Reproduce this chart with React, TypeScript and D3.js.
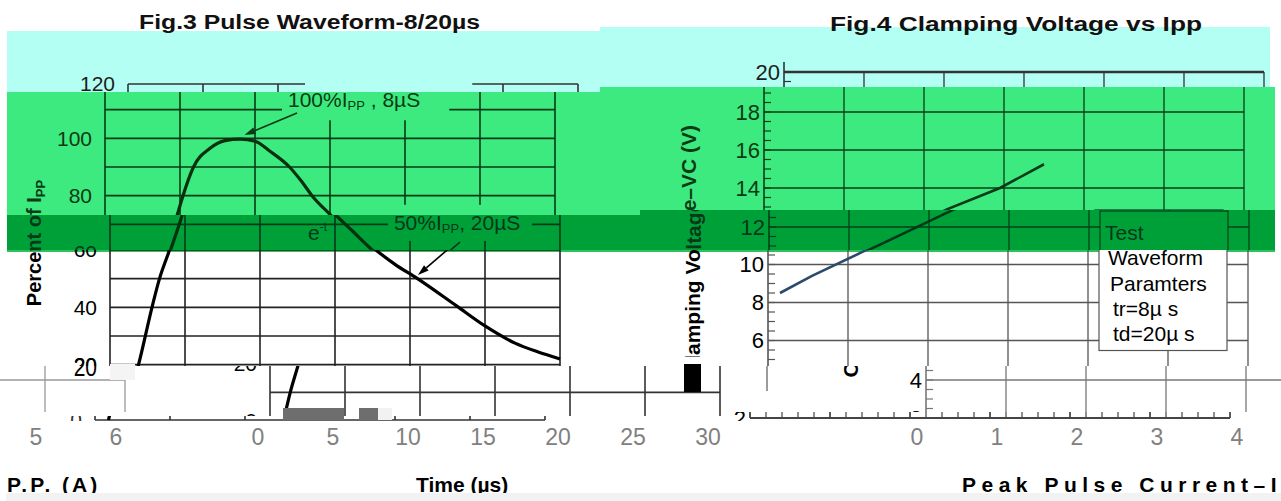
import { useEffect, useRef } from 'react'
import * as d3 from 'd3'

const W = 1281
const H = 501

// Fig.3 pulse waveform 8/20µs (time in µs, percent of Ipp)
const pulseTime = [0.9, 1.35, 1.9, 2.8, 3.3, 3.9, 4.8, 5.2, 5.9, 7.0, 8.0, 9.0, 10.0, 11.0, 12.3, 13.1, 13.8, 15.0, 16.2, 17.5, 19.0, 20.5, 23.1, 25.0, 27.0, 28.5, 30.0]
const pulsePercent = [0, 10, 20, 40, 50, 59, 73, 80, 90, 96.5, 99.2, 99.7, 99, 95.5, 90, 85, 80, 73.5, 67.5, 61, 55, 50, 40.5, 33.5, 27.5, 24.5, 22]
const timeTicks = [0, 5, 10, 15, 20, 25, 30]
const percentGrid = [0, 10, 20, 30, 40, 50, 60, 70, 80, 90, 100, 110, 120]
const percentLabels = [0, 20, 40, 60, 80, 100, 120]

// Fig.4 clamping voltage vs Ipp
const ippAmps = [0.15, 0.55, 1.2, 1.75, 2.3, 2.95, 3.5]
const clampVolts = [8.5, 9.4, 10.7, 11.8, 12.9, 14.0, 15.25]
const ippTicks = [0, 1, 2, 3, 4, 5, 6]
const voltTicks = [2, 4, 6, 8, 10, 12, 14, 16, 18, 20]
const legendLines = ['Test', 'Waveform', 'Paramters', 'tr=8µ s', 'td=20µ s']

const FONT = '"Liberation Sans", Arial, sans-serif'
const NARROW = '"Liberation Sans Narrow", "Arial Narrow", "Liberation Sans", sans-serif'

const xP = d3.scaleLinear().domain([0, 30]).range([105, 555])
const yP = d3.scaleLinear().domain([0, 120]).range([425, 81])
const xC = d3.scaleLinear().domain([0, 6]).range([764, 1244])
const yC = d3.scaleLinear().domain([2, 20]).range([416, 74])

type Band = {
  id: string
  x0: number
  x1: number
  y0: number
  y1: number
  dx: number
  dy: number
  ink: string
  grid: string
  bg: string
  curve: string
}

const CYAN = '#b3fff4'
const GREEN = '#3dea7f'
const DARK = '#00a038'

// each horizontal slice of the picture is a copy of the chart, moved sideways
const pulseBands: Band[] = [
  { id: 'pc', x0: 0, x1: 600, y0: 31, y1: 92, dx: 23, dy: 3, ink: '#1d1d1d', grid: '#333', bg: CYAN, curve: '#111' },
  { id: 'pg', x0: 0, x1: 600, y0: 92, y1: 215, dx: 0, dy: 0, ink: '#0b3a14', grid: '#0b3a14', bg: GREEN, curve: '#0a300f' },
  { id: 'pd', x0: 0, x1: 640, y0: 215, y1: 250, dx: 5, dy: 0, ink: '#04381a', grid: '#04381a', bg: DARK, curve: '#03300f' },
  { id: 'pw', x0: 0, x1: 640, y0: 250, y1: 366, dx: 5, dy: -3, ink: '#000', grid: '#222', bg: '#fff', curve: '#000' },
  { id: 'px', x0: 140, x1: 725, y0: 366, y1: 416, dx: 165, dy: -4, ink: '#000', grid: '#333', bg: '#fff', curve: '#000' },
  { id: 'pa', x0: 0, x1: 600, y0: 416, y1: 421, dx: -10, dy: -5, ink: '#333', grid: '#333', bg: '#fff', curve: '#000' },
]

const clampBands: Band[] = [
  { id: 'cc', x0: 600, x1: 1281, y0: 27, y1: 87, dx: 20, dy: -2, ink: '#1d1d1d', grid: '#333', bg: CYAN, curve: '#222' },
  { id: 'cg', x0: 600, x1: 1281, y0: 87, y1: 210, dx: 0, dy: 0, ink: '#0b3a14', grid: '#0d3d16', bg: GREEN, curve: '#0d3a18' },
  { id: 'cd', x0: 640, x1: 1281, y0: 210, y1: 250, dx: 5, dy: 1, ink: '#04381a', grid: '#05401a', bg: DARK, curve: '#04381a' },
  { id: 'cw', x0: 640, x1: 1281, y0: 250, y1: 366, dx: 4, dy: 0.5, ink: '#000', grid: '#555', bg: '#fff', curve: '#2c4a6c' },
  { id: 'cx', x0: 725, x1: 1281, y0: 366, y1: 412, dx: 162, dy: 2, ink: '#000', grid: '#777', bg: '#fff', curve: '#2c4a6c' },
  { id: 'cr', x0: 0, x1: 140, y0: 366, y1: 412, dx: 162 - W, dy: 2, ink: '#000', grid: '#999', bg: '#fff', curve: '#2c4a6c' },
  { id: 'ca', x0: 640, x1: 1281, y0: 412, y1: 421, dx: -14, dy: 2, ink: '#000', grid: '#444', bg: '#fff', curve: '#2c4a6c' },
]

type G = d3.Selection<SVGGElement, unknown, null, undefined>

function arrow(g: G, x1: number, y1: number, x2: number, y2: number, color: string) {
  const a = Math.atan2(y2 - y1, x2 - x1)
  const L = 11
  const w = 3.5
  const bx = x2 - L * Math.cos(a)
  const by = y2 - L * Math.sin(a)
  g.append('line')
    .attr('x1', x1).attr('y1', y1).attr('x2', bx).attr('y2', by)
    .attr('stroke', color).attr('stroke-width', 1.6)
  g.append('path')
    .attr('d', `M${x2},${y2}L${bx + w * Math.sin(a)},${by - w * Math.cos(a)}L${bx - w * Math.sin(a)},${by + w * Math.cos(a)}Z`)
    .attr('fill', color)
}

function drawPulse(g: G, b: Band) {
  const x = (t: number) => xP(t) + b.dx
  const y = (v: number) => yP(v) + b.dy

  // grid
  g.selectAll(null).data(timeTicks).join('line')
    .attr('x1', (d) => x(d)).attr('x2', (d) => x(d))
    .attr('y1', y(0)).attr('y2', y(120))
    .attr('stroke', b.grid).attr('stroke-width', 1.6)
  g.selectAll(null).data(percentGrid).join('line')
    .attr('x1', x(0)).attr('x2', x(30))
    .attr('y1', (d) => y(d)).attr('y2', (d) => y(d))
    .attr('stroke', b.grid).attr('stroke-width', 1.6)

  // y tick labels
  g.selectAll(null).data(percentLabels).join('text')
    .attr('x', x(0) - 13).attr('y', (d) => y(d)).attr('dy', '0.35em')
    .attr('text-anchor', 'end').attr('font-family', FONT).attr('font-size', 21)
    .attr('fill', b.ink).text((d) => d)

  // annotation 100%
  g.append('rect')
    .attr('x', x(11.8)).attr('width', x(22.95) - x(11.8))
    .attr('y', y(125)).attr('height', y(106.3) - y(125))
    .attr('fill', b.bg)
  const t1 = g.append('text').attr('x', x(12.2)).attr('y', y(110.8))
    .attr('font-family', FONT).attr('font-size', 21).attr('fill', b.ink)
  t1.append('tspan').text('100%I')
  t1.append('tspan').attr('font-size', 13).attr('dy', 3).text('PP')
  t1.append('tspan').attr('dy', -3).text(' , 8µS')
  arrow(g, x(12.8), y(108.8), x(9.3), y(101.2), b.ink)

  // annotation 50%
  g.append('rect')
    .attr('x', x(18.53)).attr('width', x(28.13) - x(18.53))
    .attr('y', y(76.8)).attr('height', y(64.2) - y(76.8))
    .attr('fill', b.bg)
  const t2 = g.append('text').attr('x', x(18.93)).attr('y', y(68.0))
    .attr('font-family', FONT).attr('font-size', 21).attr('fill', b.ink)
  t2.append('tspan').text('50%I')
  t2.append('tspan').attr('font-size', 13).attr('dy', 3).text('PP')
  t2.append('tspan').attr('dy', -3).text(', 20µS')
  arrow(g, x(23.33), y(63.8), x(20.53), y(51.3), b.ink)

  const te = g.append('text').attr('x', x(13.2)).attr('y', y(64.5))
    .attr('font-family', FONT).attr('font-size', 21).attr('fill', b.ink)
  te.append('tspan').text('e')
  te.append('tspan').attr('font-size', 12).attr('dy', -9).text('-t')

  // waveform
  const line = d3.line<number>()
    .x((_, i) => x(pulseTime[i]))
    .y((d) => y(d))
    .curve(d3.curveMonotoneX)
  g.append('path').attr('d', line(pulsePercent) || '')
    .attr('fill', 'none').attr('stroke', b.curve).attr('stroke-width', 3.2)

  // axis title (does not shift with the bands)
  const yt = g.append('text')
    .attr('transform', 'translate(41,243) rotate(-90)')
    .attr('text-anchor', 'middle').attr('font-family', FONT).attr('font-weight', 'bold')
    .attr('font-size', 20).attr('fill', b.ink)
  yt.append('tspan').text('Percent of I')
  yt.append('tspan').attr('font-size', 13).attr('dy', 4).text('PP')
}

function drawClamp(g: G, b: Band) {
  const x = (a: number) => xC(a) + b.dx
  const y = (v: number) => yC(v) + b.dy

  g.selectAll(null).data(ippTicks.slice(1)).join('line')
    .attr('x1', (d) => x(d)).attr('x2', (d) => x(d))
    .attr('y1', y(2)).attr('y2', y(20))
    .attr('stroke', b.grid).attr('stroke-width', 1.3)
  g.selectAll(null).data(voltTicks).join('line')
    .attr('x1', x(0)).attr('x2', x(6))
    .attr('y1', (d) => y(d)).attr('y2', (d) => y(d))
    .attr('stroke', b.grid).attr('stroke-width', (d) => (d === 20 ? 2.4 : d === 2 ? 2 : 1.3))

  // left axis + minor ticks
  g.append('line').attr('x1', x(0)).attr('x2', x(0)).attr('y1', y(20) - 10).attr('y2', y(2))
    .attr('stroke', b.grid).attr('stroke-width', 1.6)
  g.selectAll(null).data(d3.range(2, 20.01, 0.5)).join('line')
    .attr('x1', x(0)).attr('x2', x(0) + 7)
    .attr('y1', (d) => y(d)).attr('y2', (d) => y(d))
    .attr('stroke', b.grid).attr('stroke-width', 1.2)
  g.selectAll(null).data(d3.range(0, 6.01, 0.2)).join('line')
    .attr('x1', (d) => x(d)).attr('x2', (d) => x(d))
    .attr('y1', y(2)).attr('y2', y(2) - 6)
    .attr('stroke', b.grid).attr('stroke-width', 1.2)

  g.selectAll(null).data(voltTicks).join('text')
    .attr('x', x(0) - 4).attr('y', (d) => y(d)).attr('dy', '0.35em')
    .attr('text-anchor', 'end').attr('font-family', FONT).attr('font-size', 22)
    .attr('fill', b.ink).text((d) => d)

  const line = d3.line<number>()
    .x((_, i) => x(ippAmps[i]))
    .y((d) => y(d))
  g.append('path').attr('d', line(clampVolts) || '')
    .attr('fill', 'none').attr('stroke', b.curve).attr('stroke-width', 2.6)

  // legend box
  const lx = 1095 + b.dx
  const ly = 210 + b.dy
  g.append('rect').attr('x', lx).attr('y', ly).attr('width', 128).attr('height', 140)
    .attr('fill', b.bg).attr('stroke', b.grid).attr('stroke-width', 1.2)
  const lxs = [5, 9, 11, 14, 14]
  const lys = [29, 54, 80, 105, 130]
  g.selectAll(null).data(legendLines).join('text')
    .attr('x', (_, i) => lx + lxs[i]).attr('y', (_, i) => ly + lys[i])
    .attr('font-family', FONT).attr('font-size', 21).attr('fill', b.ink)
    .text((d) => d)

  g.append('text')
    .attr('transform', `translate(${696 + b.dx},${125 + b.dy}) rotate(-90)`)
    .attr('text-anchor', 'end').attr('font-family', FONT).attr('font-weight', 'bold')
    .attr('font-size', 21).attr('fill', b.ink)
    .text('Clamping Voltage–VC (V)')
}

export default function App() {
  const ref = useRef<SVGSVGElement>(null)

  useEffect(() => {
    if (!ref.current) return
    const svg = d3.select(ref.current)
    svg.selectAll('*').remove()
    const defs = svg.append('defs')

    svg.append('rect').attr('width', W).attr('height', H).attr('fill', '#fff')

    // colour bands
    const fills: [number, number, number, number, string][] = [
      [7, 31, 600, 92, CYAN],
      [600, 27, 1270, 87, CYAN],
      [7, 92, 600, 215, GREEN],
      [600, 87, 1275, 215, GREEN],
      [7, 215, 640, 250, DARK],
      [640, 210, 1275, 250, DARK],
      [7, 250, 1275, 252, '#2fc25c'],
    ]
    svg.selectAll(null).data(fills).join('rect')
      .attr('x', (d) => d[0]).attr('y', (d) => d[1])
      .attr('width', (d) => d[2] - d[0]).attr('height', (d) => d[3] - d[1])
      .attr('fill', (d) => d[4])

    const clipped = (b: Band) => {
      defs.append('clipPath').attr('id', `clip-${b.id}`).append('rect')
        .attr('x', b.x0).attr('y', b.y0).attr('width', b.x1 - b.x0).attr('height', b.y1 - b.y0)
      return svg.append('g').attr('clip-path', `url(#clip-${b.id})`) as G
    }
    pulseBands.forEach((b) => drawPulse(clipped(b), b))
    clampBands.forEach((b) => drawClamp(clipped(b), b))

    // leftovers of the shifted rows
    const junk: [number, number, number, number, string][] = [
      [110, 364, 135, 380, '#f4f4f4'],
      [283, 408, 344, 420, '#6e6e6e'],
      [359, 408, 378, 420, '#6e6e6e'],
      [378, 408, 392, 420, '#f2f2f2'],
      [683, 357, 706, 364, '#fff'],
      [684, 364, 701, 392, '#000'],
    ]
    svg.selectAll(null).data(junk).join('rect')
      .attr('x', (d) => d[0]).attr('y', (d) => d[1])
      .attr('width', (d) => d[2] - d[0]).attr('height', (d) => d[3] - d[1])
      .attr('fill', (d) => d[4])
    svg.append('text').attr('x', xP(0) - 8).attr('y', yP(20) - 1).attr('dy', '0.35em')
      .attr('text-anchor', 'end').attr('font-family', FONT).attr('font-size', 21)
      .attr('transform', `translate(0,${-(yP(20) - 1) * 0.25}) scale(1,1.25)`)
      .text('20')
    svg.append('line').attr('x1', xC(0) + 3).attr('x2', xC(0) + 3).attr('y1', 366).attr('y2', 391)
      .attr('stroke', '#666').attr('stroke-width', 1.3)

    // titles
    svg.append('text').attr('x', 139).attr('y', 29).attr('textLength', 341)
      .attr('lengthAdjust', 'spacingAndGlyphs')
      .attr('font-family', FONT).attr('font-weight', 'bold').attr('font-size', 20).attr('fill', '#111')
      .text('Fig.3 Pulse Waveform-8/20µs')
    svg.append('text').attr('x', 830).attr('y', 31).attr('textLength', 372)
      .attr('lengthAdjust', 'spacingAndGlyphs')
      .attr('font-family', FONT).attr('font-weight', 'bold').attr('font-size', 20).attr('fill', '#111')
      .text('Fig.4 Clamping Voltage vs Ipp')

    // tick label row, shifted and wrapped
    const tickRow = [
      ...timeTicks.map((t) => ({ x: xP(t) + 153, s: String(t) })),
      ...ippTicks.map((a) => ({ x: (xC(a) + 153) % W, s: String(a) })),
    ]
    svg.selectAll(null).data(tickRow).join('text')
      .attr('x', (d) => d.x).attr('y', 445).attr('text-anchor', 'middle')
      .attr('font-family', NARROW).attr('font-size', 23).attr('fill', '#808080')
      .text((d) => d.s)

    // axis titles of the bottom row
    const bottom = [
      { x: 7, s: 'P.P. (A)', ls: 3 },
      { x: 416, s: 'Time (µs)', ls: 0 },
      { x: 962, s: 'Peak Pulse Current–I', ls: 5.5 },
    ]
    svg.selectAll(null).data(bottom).join('text')
      .attr('x', (d) => d.x).attr('y', 492)
      .attr('font-family', FONT).attr('font-weight', 'bold').attr('font-size', 21)
      .attr('letter-spacing', (d) => d.ls).attr('fill', '#000')
      .text((d) => d.s)
    svg.append('rect').attr('x', 6).attr('y', 493).attr('width', W - 6).attr('height', 8).attr('fill', '#f2f2f2')
  }, [])

  return (
    <svg
      ref={ref}
      width={W}
      height={H}
      style={{ position: 'absolute', left: 0, top: 0, display: 'block' }}
    />
  )
}
